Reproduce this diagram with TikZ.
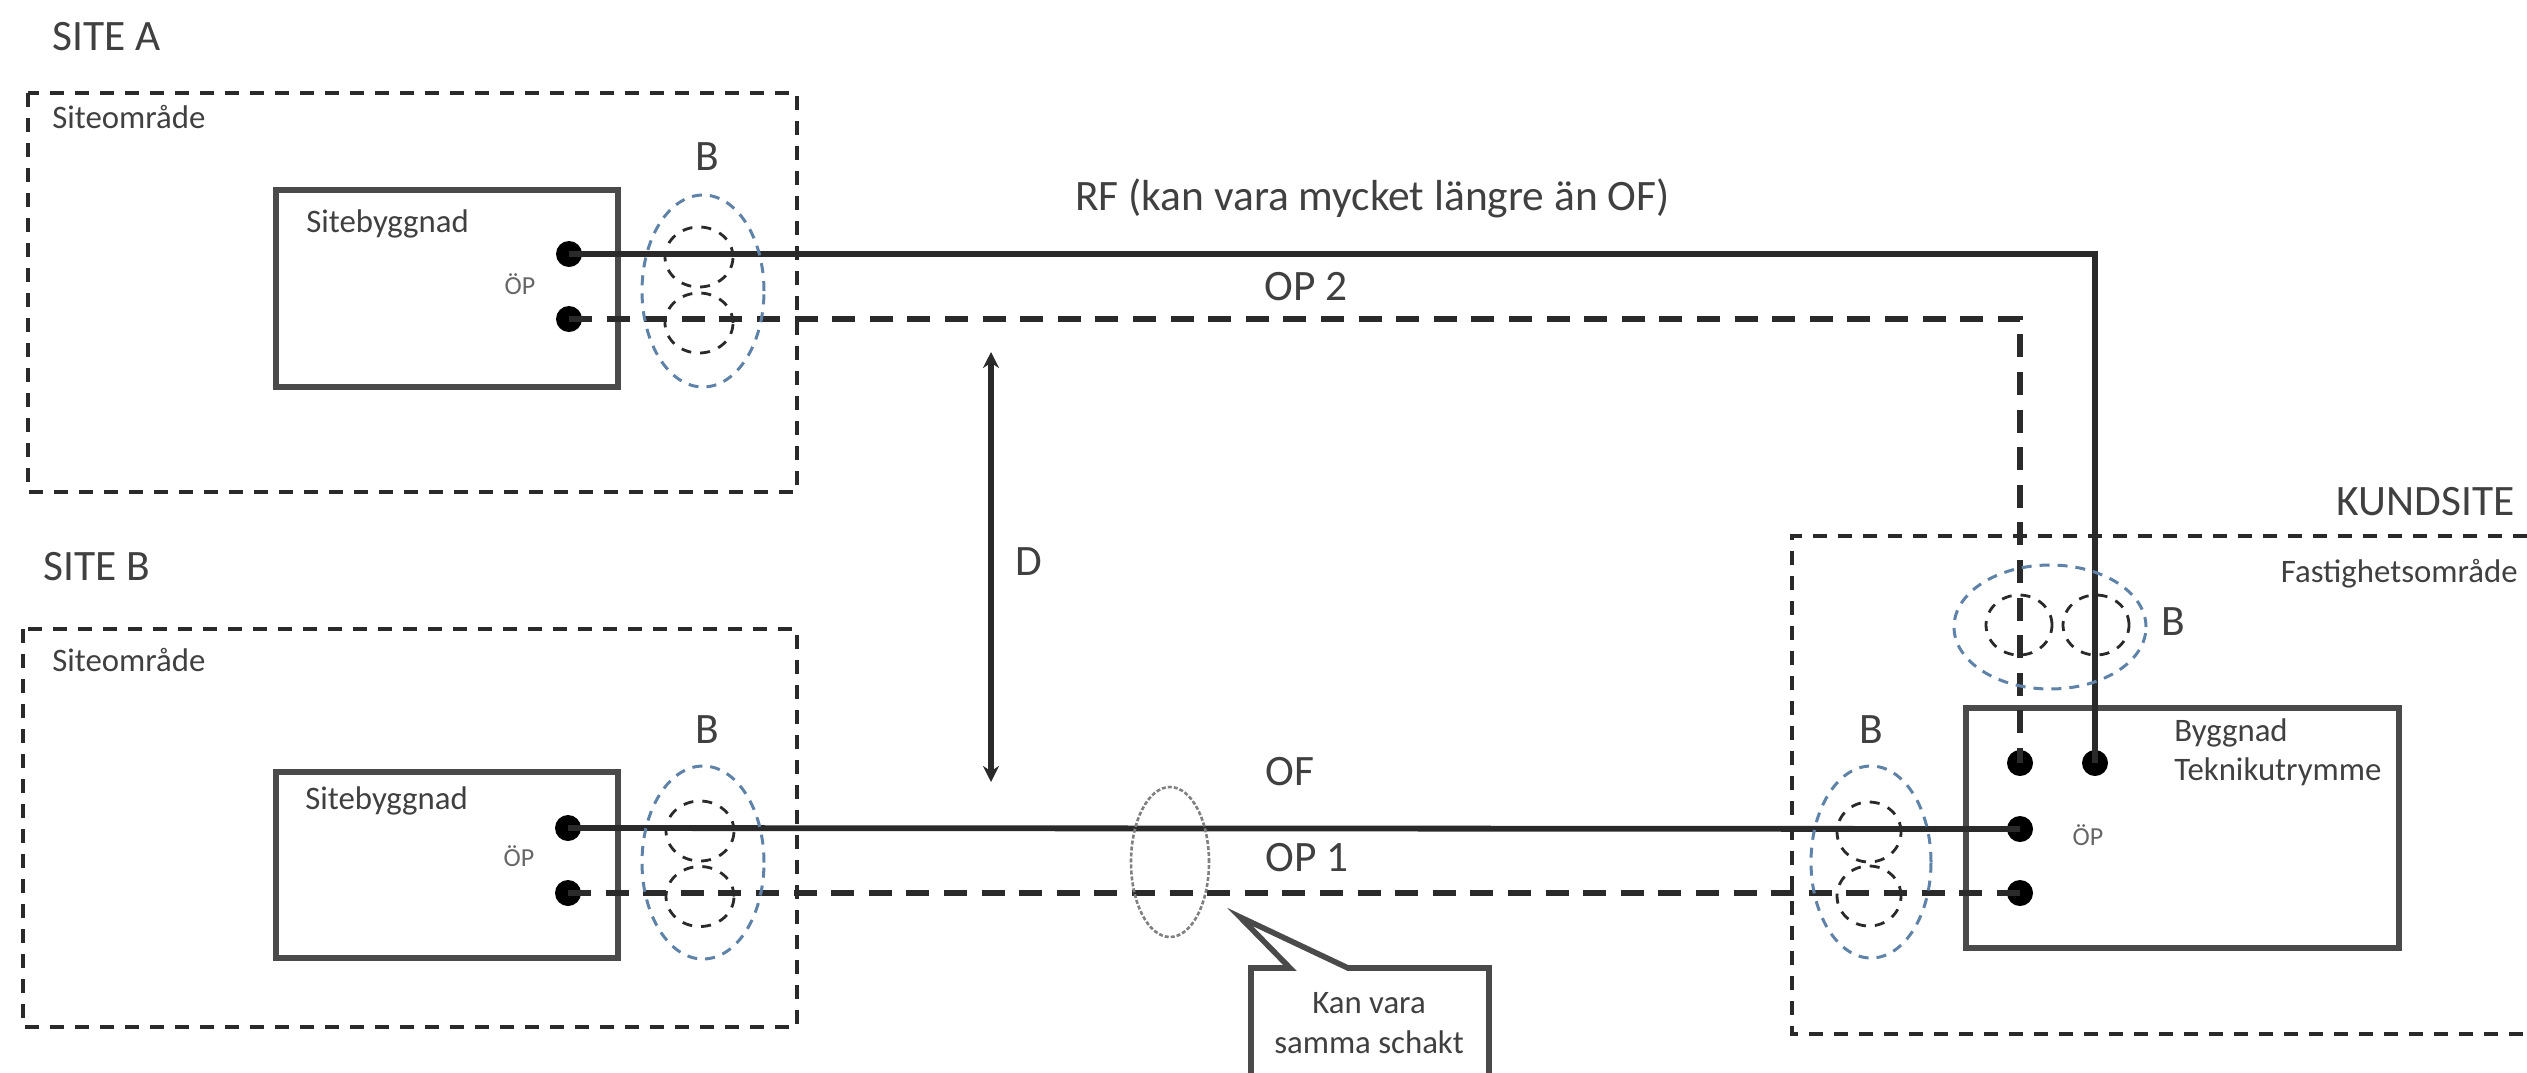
\documentclass[tikz,border=0pt]{standalone}
\usepackage{fontspec}
\setmainfont{Carlito}
\usetikzlibrary{shapes.geometric,arrows.meta}
\definecolor{ink}{HTML}{2A2A2A}
\definecolor{txt}{HTML}{404040}
\definecolor{blu}{HTML}{5F82A8}
\tikzset{
  x=0.5pt,y=-0.5pt,
  lab/.style={inner sep=0pt,text=txt,font=\fontsize{21.7}{25}\selectfont},
  sml/.style={inner sep=0pt,text=txt,font=\fontsize{16.4}{19}\selectfont},
  tiny/.style={inner sep=0pt,text=txt!80,font=\fontsize{13}{15}\selectfont},
  area/.style={draw=ink,line width=1.8pt,dash pattern=on 7pt off 5.5pt},
  bld/.style={draw=ink!85,line width=2.8pt,rectangle,inner sep=0pt},
  dotn/.style={circle,fill=black,inner sep=0pt,minimum size=13pt},
  solidw/.style={draw=ink,line width=2.9pt},
  dashw/.style={draw=ink,line width=2.9pt,dash pattern=on 11.5pt off 7.3pt},
  blue/.style={ellipse,draw=blu,line width=1.5pt,inner sep=0pt,dash pattern=on 5pt off 4pt},
  circ/.style={ellipse,draw=ink,line width=1.4pt,inner sep=0pt,dash pattern=on 5pt off 4.5pt},
  shaft/.style={ellipse,draw=gray,line width=1.3pt,inner sep=0pt,dash pattern=on 2pt off 1pt},
}
\begin{document}
\begin{tikzpicture}
\useasboundingbox (0,0) rectangle (2527,1072);
% areas
\draw[area] (28,93) rectangle (797,492);
\draw[area] (23,629) rectangle (797,1027);
\draw[area] (2527,536) -- (1792,536) -- (1792,1034) -- (2527,1034);
% buildings
\node[bld,minimum width=171pt,minimum height=98.5pt] (bA) at (447,288.5) {};
\node[bld,minimum width=171pt,minimum height=93pt] (bB) at (447,865) {};
\node[bld,minimum width=216.5pt,minimum height=120pt] (bK) at (2182.5,828) {};
% points
\node[dotn] (a1) at (569,254) {};
\node[dotn] (a2) at (569,319) {};
\node[dotn] (b1) at (568,828) {};
\node[dotn] (b2) at (568,893) {};
\node[dotn] (k1) at (2095,763) {};
\node[dotn] (k2) at (2020,763) {};
\node[dotn] (k3) at (2020,829) {};
\node[dotn] (k4) at (2020,893) {};
% connectors
\draw[solidw] (a1.center) -| (k1.center);
\draw[dashw] (a2.center) -| (k2.center);
\draw[solidw] (b1.center) -- (k3.center);
\draw[dashw] (b2.center) -- (k4.center);
% bundles
\node[blue,minimum width=61pt,minimum height=96pt] (eA) at (703,291) {};
\node[circ,minimum width=34pt,minimum height=30pt] (eA1) at (699,257) {};
\node[circ,minimum width=34pt,minimum height=30pt] (eA2) at (699,323) {};
\node[blue,minimum width=61pt,minimum height=96.5pt] (eB) at (703,862.5) {};
\node[circ,minimum width=34pt,minimum height=30pt] (eB1) at (700,831) {};
\node[circ,minimum width=34pt,minimum height=30pt] (eB2) at (700,896.5) {};
\node[blue,minimum width=60pt,minimum height=96pt] (eK) at (1871,862) {};
\node[circ,minimum width=32pt,minimum height=30pt] (eK1) at (1869,832) {};
\node[circ,minimum width=32pt,minimum height=30pt] (eK2) at (1869,896) {};
\node[blue,minimum width=96pt,minimum height=62pt] (eT) at (2050,627) {};
\node[circ,minimum width=33pt,minimum height=30pt] (eT1) at (2019,625) {};
\node[circ,minimum width=33pt,minimum height=30pt] (eT2) at (2096,625) {};
\node[shaft,minimum width=39pt,minimum height=75pt] (sh) at (1170,862) {};
% distance arrow
\coordinate (dTop) at (991,352);
\coordinate (dBot) at (991,782);
\draw[draw=ink,line width=2.6pt,{Stealth[length=8pt,width=8pt]}-{Stealth[length=8pt,width=8pt]}] (dTop) -- (dBot);
% callout
\draw[draw=ink!85,line width=2.8pt,line join=miter] (1251,1074) -- (1251,968) -- (1290,968) -- (1240,917) -- (1348,968) -- (1489,968) -- (1489,1074);
\node[sml,anchor=center] (ct1) at (1369,1003) {Kan vara};
\node[sml,anchor=center] (ct2) at (1369,1042) {samma schakt};
% labels
\node[lab,anchor=west] (siteA) at (52,37) {SITE A};
\node[lab,anchor=west] (siteB) at (43,567) {SITE B};
\node[lab,anchor=east] (kund) at (2515,502) {KUNDSITE};
\node[sml,anchor=west] (oA) at (52,117) {Siteområde};
\node[sml,anchor=west] (oB) at (52,660) {Siteområde};
\node[sml,anchor=east] (oK) at (2518,574) {Fastighetsområde};
\node[sml,anchor=west] (sA) at (306,224) {Sitebyggnad};
\node[sml,anchor=west] (sB) at (305,801) {Sitebyggnad};
\node[sml,anchor=west] (by) at (2174,733) {Byggnad};
\node[sml,anchor=west] (te) at (2174,772) {Teknikutrymme};
\node[tiny] (opA) at (520,284) {ÖP};
\node[tiny] (opB) at (519,856) {ÖP};
\node[tiny] (opK) at (2088,835) {ÖP};
\node[lab] (bla) at (707,157) {B};
\node[lab] (blb) at (707,730) {B};
\node[lab] (blk) at (1871,730) {B};
\node[lab] (blt) at (2173,622) {B};
\node[lab,anchor=west] (rf) at (1075,198) {RF (kan vara mycket längre än OF)};
\node[lab,anchor=west] (op2) at (1264,287) {OP 2};
\node[lab,anchor=west] (of) at (1265,772) {OF};
\node[lab,anchor=west] (op1) at (1265,858) {OP 1};
\node[lab] (dl) at (1029,562) {D};
\end{tikzpicture}
\end{document}
